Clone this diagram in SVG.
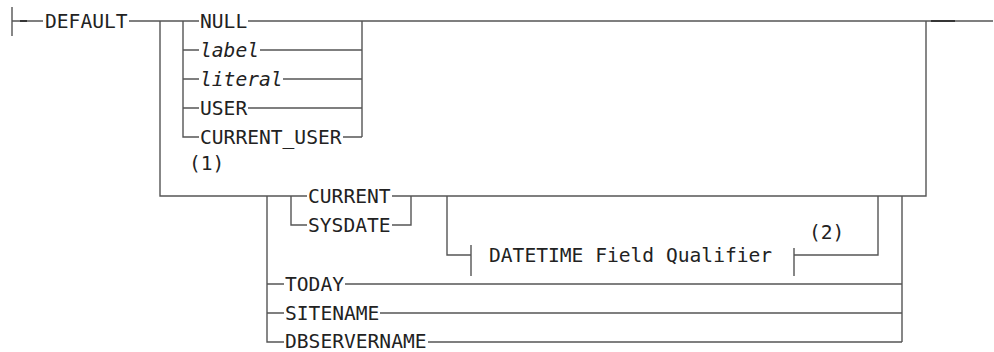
<svg xmlns="http://www.w3.org/2000/svg" width="994" height="352" viewBox="0 0 994 352">
<style>
.t{font-family:"DejaVu Sans Mono","Liberation Mono",monospace;font-size:19.6px;fill:#222}
.i{font-style:italic}
.c{fill:none;stroke:#555;stroke-width:1.4}
.d{fill:none;stroke:#222;stroke-width:1.6}
</style>
<rect width="994" height="352" fill="#fff"/>
<g id="connectors">
<path class="c" d="M12 7V36M12 21H43"/>
<path class="d" d="M20 21H27"/>
<path class="c" d="M129 21H199M248 21H993"/>
<path class="d" d="M931 21H955"/>
<path class="c" d="M160 21V196H307M392 196H926V21"/>
<path class="c" d="M183 21V137H199M183 50H199M183 79H199M183 108H199"/>
<path class="c" d="M260 50H362M283 79H362M248 108H362M343 137H362M362 21V137"/>
<path class="c" d="M267 196V342H284M267 284H284M267 313H284"/>
<path class="c" d="M345 284H902M380 313H902M428 342H902M902 196V342"/>
<path class="c" d="M291 196V225H307M392 225H411V196"/>
<path class="c" d="M447 196V255H471M471 245V276M794 248V276M794 255H878V196"/>
</g>
<g id="n-default"><text class="t" x="45" y="28">DEFAULT</text></g>
<g id="n-null"><text class="t" x="200" y="28">NULL</text></g>
<g id="n-label"><text class="t i" x="200" y="57">label</text></g>
<g id="n-literal"><text class="t i" x="200" y="86">literal</text></g>
<g id="n-user"><text class="t" x="200" y="115">USER</text></g>
<g id="n-current-user"><text class="t" x="200" y="144">CURRENT_USER</text></g>
<g id="note-1"><text class="t" x="189" y="170">(1)</text></g>
<g id="n-current"><text class="t" x="308" y="203">CURRENT</text></g>
<g id="n-sysdate"><text class="t" x="308" y="232">SYSDATE</text></g>
<g id="n-datetime"><text class="t" x="489" y="262">DATETIME Field Qualifier</text></g>
<g id="note-2"><text class="t" x="809" y="239">(2)</text></g>
<g id="n-today"><text class="t" x="285" y="291">TODAY</text></g>
<g id="n-sitename"><text class="t" x="285" y="320">SITENAME</text></g>
<g id="n-dbservername"><text class="t" x="285" y="348">DBSERVERNAME</text></g>
</svg>
